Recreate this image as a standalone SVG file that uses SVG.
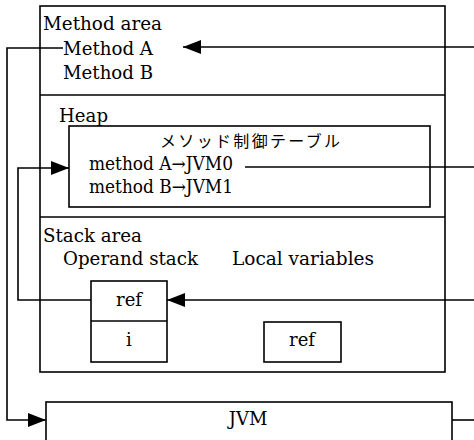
<svg xmlns="http://www.w3.org/2000/svg" width="474" height="440" viewBox="0 0 474 440">
<style>
.box{fill:#fff;stroke:#000;stroke-width:1.6}
.ln{fill:none;stroke:#000;stroke-width:1.6}
text{font-family:"DejaVu Serif","Liberation Serif","Noto Sans CJK JP",serif;font-size:18px;fill:#000}
.c{text-anchor:middle}
.jp{font-family:"Noto Sans CJK JP","DejaVu Serif",serif;font-size:16px}
</style>
<defs>
<marker id="ah" markerUnits="userSpaceOnUse" markerWidth="18" markerHeight="14" refX="18" refY="7" orient="auto">
<path d="M0,0 L18,7 L0,14 z" fill="#000"/>
</marker>
</defs>
<g id="memory">
<rect class="box" x="40" y="6" width="405" height="366"/>
<line class="ln" x1="40" y1="95" x2="445" y2="95"/>
<line class="ln" x1="40" y1="217" x2="445" y2="217"/>
</g>
<g id="method-area">
<text x="43" y="30" textLength="119" lengthAdjust="spacingAndGlyphs">Method area</text>
<text x="63" y="55" textLength="90" lengthAdjust="spacingAndGlyphs">Method A</text>
<text x="63" y="79" textLength="90" lengthAdjust="spacingAndGlyphs">Method B</text>
</g>
<g id="heap">
<text x="59" y="122" textLength="49" lengthAdjust="spacingAndGlyphs">Heap</text>
</g>
<g id="method-table">
<rect class="box" x="69" y="126" width="361" height="81"/>
<text class="jp" x="160" y="147" textLength="180" lengthAdjust="spacing">メソッド制御テーブル</text>
<text x="89" y="170" textLength="144" lengthAdjust="spacingAndGlyphs">method A→JVM0</text>
<text x="89" y="193" textLength="144" lengthAdjust="spacingAndGlyphs">method B→JVM1</text>
</g>
<g id="stack-area">
<text x="43" y="242" textLength="99" lengthAdjust="spacingAndGlyphs">Stack area</text>
<text x="63" y="265" textLength="135" lengthAdjust="spacingAndGlyphs">Operand stack</text>
<text x="232" y="265" textLength="142" lengthAdjust="spacingAndGlyphs">Local variables</text>
</g>
<g id="operand-stack">
<rect class="box" x="91" y="281" width="76" height="81"/>
<line class="ln" x1="91" y1="321" x2="167" y2="321"/>
<text class="c" x="129" y="306">ref</text>
<text class="c" x="129" y="346">i</text>
</g>
<g id="local-ref">
<rect class="box" x="264" y="322" width="77" height="40"/>
<text class="c" x="302" y="346">ref</text>
</g>
<g id="jvm">
<rect class="box" x="46" y="402" width="406" height="39"/>
<text class="c" x="248" y="425">JVM</text>
</g>
<g id="connectors">
<polyline class="ln" points="474,47 183,47" marker-end="url(#ah)"/>
<polyline class="ln" points="63,48 7,48 7,420 46,420" marker-end="url(#ah)"/>
<line class="ln" x1="245" y1="167" x2="474" y2="167"/>
<polyline class="ln" points="91,300 18,300 18,168 69,168" marker-end="url(#ah)"/>
<polyline class="ln" points="474,300 167,300" marker-end="url(#ah)"/>
<line class="ln" x1="452" y1="420" x2="474" y2="420"/>
</g>
</svg>
